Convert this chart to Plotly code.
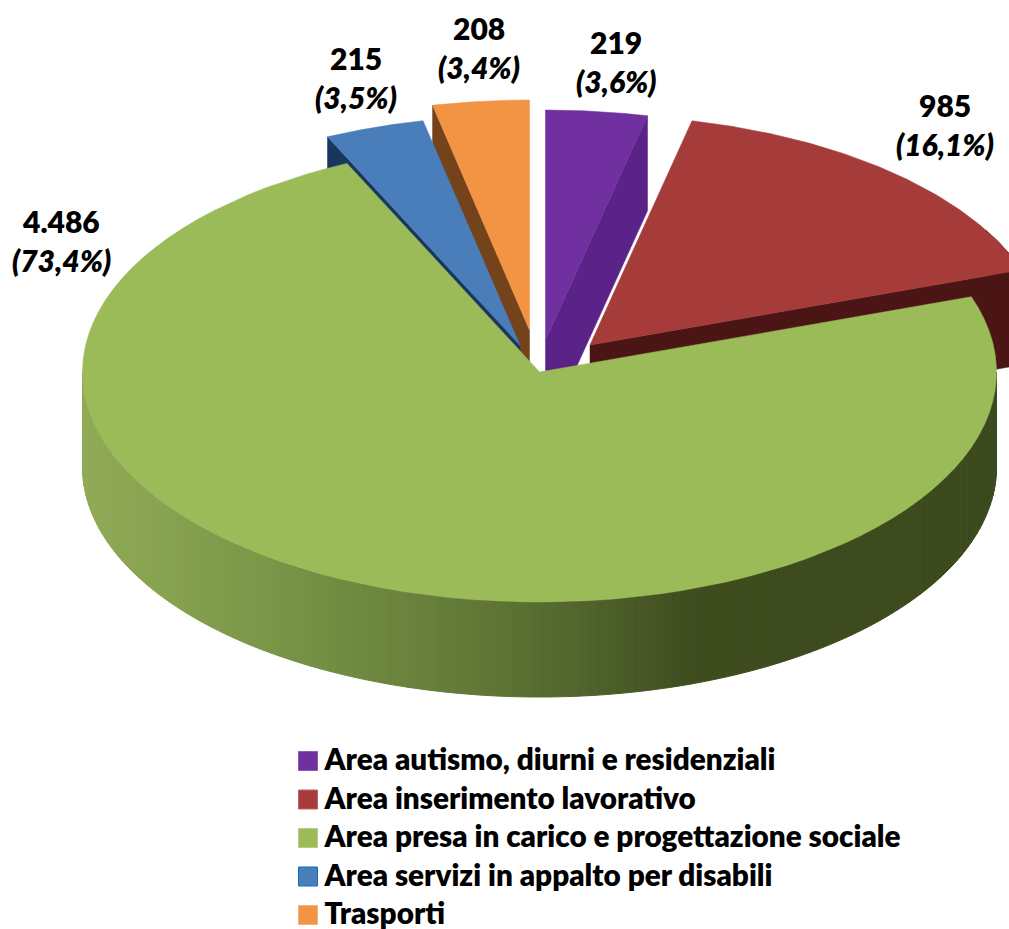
import math
import plotly.graph_objects as go

categories = ["Area autismo, diurni e residenziali", "Area inserimento lavorativo",
              "Area presa in carico e progettazione sociale",
              "Area servizi in appalto per disabili", "Trasporti"]
values = [219, 985, 4486, 215, 208]

top_colors = ["#7030A0", "#A53C3A", "#9BBB59", "#4A7EBB", "#F39444"]
wall_colors = ["#5B2387", "#4A1514", "#6B8040", "#17375E", "#74431C"]
key_borders = ["#8A5CB5", "#C9605E", "#B5CC80", "#0F6FC0", "#F8B080"]
# explode offsets in pixels
offsets = [(6, -32), (50.5, -27), (0, 0), (-19.5, -26.6), (-10, -42)]
# number / percent label centres
label_pos = [(616, 42), (945, 105), (61, 221), (356, 58), (479, 28)]
# shading of the front wall of the large slice: (x fraction, colour)
shade_stops = [(0.0, (144, 170, 86)), (0.06, (138, 165, 82)), (0.255, (116, 144, 68)),
               (0.45, (95, 117, 53)), (0.576, (76, 95, 42)), (0.67, (62, 76, 30)),
               (1.0, (60, 74, 30))]

CX, CY, A, B, DEPTH = 539.5, 372, 457, 230, 95
total = sum(values)
edges = [0]
for v in values:
    edges.append(edges[-1] + v / total * 360)


def pt(theta, off, dy=0):
    t = math.radians(theta)
    return CX + off[0] + A * math.sin(t), CY + off[1] - B * math.cos(t) + dy


def arc(a0, a1, off, dy=0, n=90):
    pts = [pt(a0 + (a1 - a0) * i / n, off, dy) for i in range(n + 1)]
    return pts


def poly(fig, pts, color, width=0.5):
    fig.add_trace(go.Scatter(x=[p[0] for p in pts] + [pts[0][0]],
                             y=[p[1] for p in pts] + [pts[0][1]],
                             mode="lines", fill="toself", fillcolor=color,
                             line=dict(color=color, width=width),
                             hoverinfo="skip", showlegend=False))


def shade(f):
    for (f0, c0), (f1, c1) in zip(shade_stops, shade_stops[1:]):
        if f <= f1:
            u = (f - f0) / (f1 - f0)
            return "rgb(%d,%d,%d)" % tuple(round(a + (b - a) * u) for a, b in zip(c0, c1))
    return "rgb(%d,%d,%d)" % shade_stops[-1][1]


fig = go.Figure()


def radial_wall(theta, i):
    off = offsets[i]
    apex = (CX + off[0], CY + off[1])
    c = pt(theta, off)
    poly(fig, [apex, c, (c[0], c[1] + DEPTH), (apex[0], apex[1] + DEPTH)], wall_colors[i])


def top_face(i):
    off = offsets[i]
    poly(fig, [(CX + off[0], CY + off[1])] + arc(edges[i], edges[i + 1], off), top_colors[i], 0.5)


# orange
radial_wall(edges[4], 4)
top_face(4)
# blue
radial_wall(edges[3], 3)
top_face(3)
# purple
radial_wall(edges[1], 0)
top_face(0)
# red: outer wall and radial wall
radial_wall(edges[2], 1)
poly(fig, arc(60, edges[2], offsets[1]) + arc(edges[2], 60, offsets[1], DEPTH), wall_colors[1])
top_face(1)

# green front wall, as shaded strips
n_strips = 150
for k in range(n_strips):
    a0 = 90 + 180 * k / n_strips
    a1 = 90 + 180 * (k + 1) / n_strips
    mid = (a0 + a1) / 2
    f = (pt(mid, (0, 0))[0] - (CX - A)) / (2 * A)
    poly(fig, arc(a0, a1, (0, 0), 0, 2) + arc(a1, a0, (0, 0), DEPTH, 2), shade(f), 1)
top_face(2)

# legend keys and names, drawn from the categories
KEY_X, KEY_Y, KEY_STEP = 308, 761, 38.5
TEXT_X, TEXT_DY = 324.5, 2
key_ys = [KEY_Y + i * KEY_STEP for i in range(len(categories))]
fig.add_trace(go.Scatter(
    x=[KEY_X] * len(categories), y=key_ys, mode="markers",
    marker=dict(symbol="square", size=19, color=top_colors,
                line=dict(color=key_borders, width=1)),
    hoverinfo="skip", showlegend=False))
fig.add_trace(go.Scatter(
    x=[TEXT_X] * len(categories), y=[y + TEXT_DY for y in key_ys],
    mode="text", text=categories, textposition="middle right",
    textfont=dict(family="Lato", size=29.7, color="#000000", weight=800),
    hoverinfo="skip", showlegend=False))

# value labels
for v, (lx, ly) in zip(values, label_pos):
    num = f"{v:,}".replace(",", ".")
    pct = f"{v / total * 100:.1f}".replace(".", ",") + "%"
    fig.add_annotation(x=lx, y=ly, text=num, showarrow=False,
                       font=dict(family="Lato", size=30, color="#000000", weight=800))
    fig.add_annotation(x=lx, y=ly + 39, text="<i>(%s)</i>" % pct, showarrow=False,
                       font=dict(family="Lato", size=30, color="#000000", weight=800))

fig.update_layout(
    width=1009, height=929, margin=dict(l=0, r=0, t=0, b=0),
    paper_bgcolor="white", plot_bgcolor="white", showlegend=False,
    xaxis=dict(range=[0, 1009], visible=False, fixedrange=True),
    yaxis=dict(range=[929, 0], visible=False, fixedrange=True),
)
fig.write_html("out.html", config={"displayModeBar": False},
               post_script="document.body.style.margin='0';document.documentElement.style.overflow='hidden';")
